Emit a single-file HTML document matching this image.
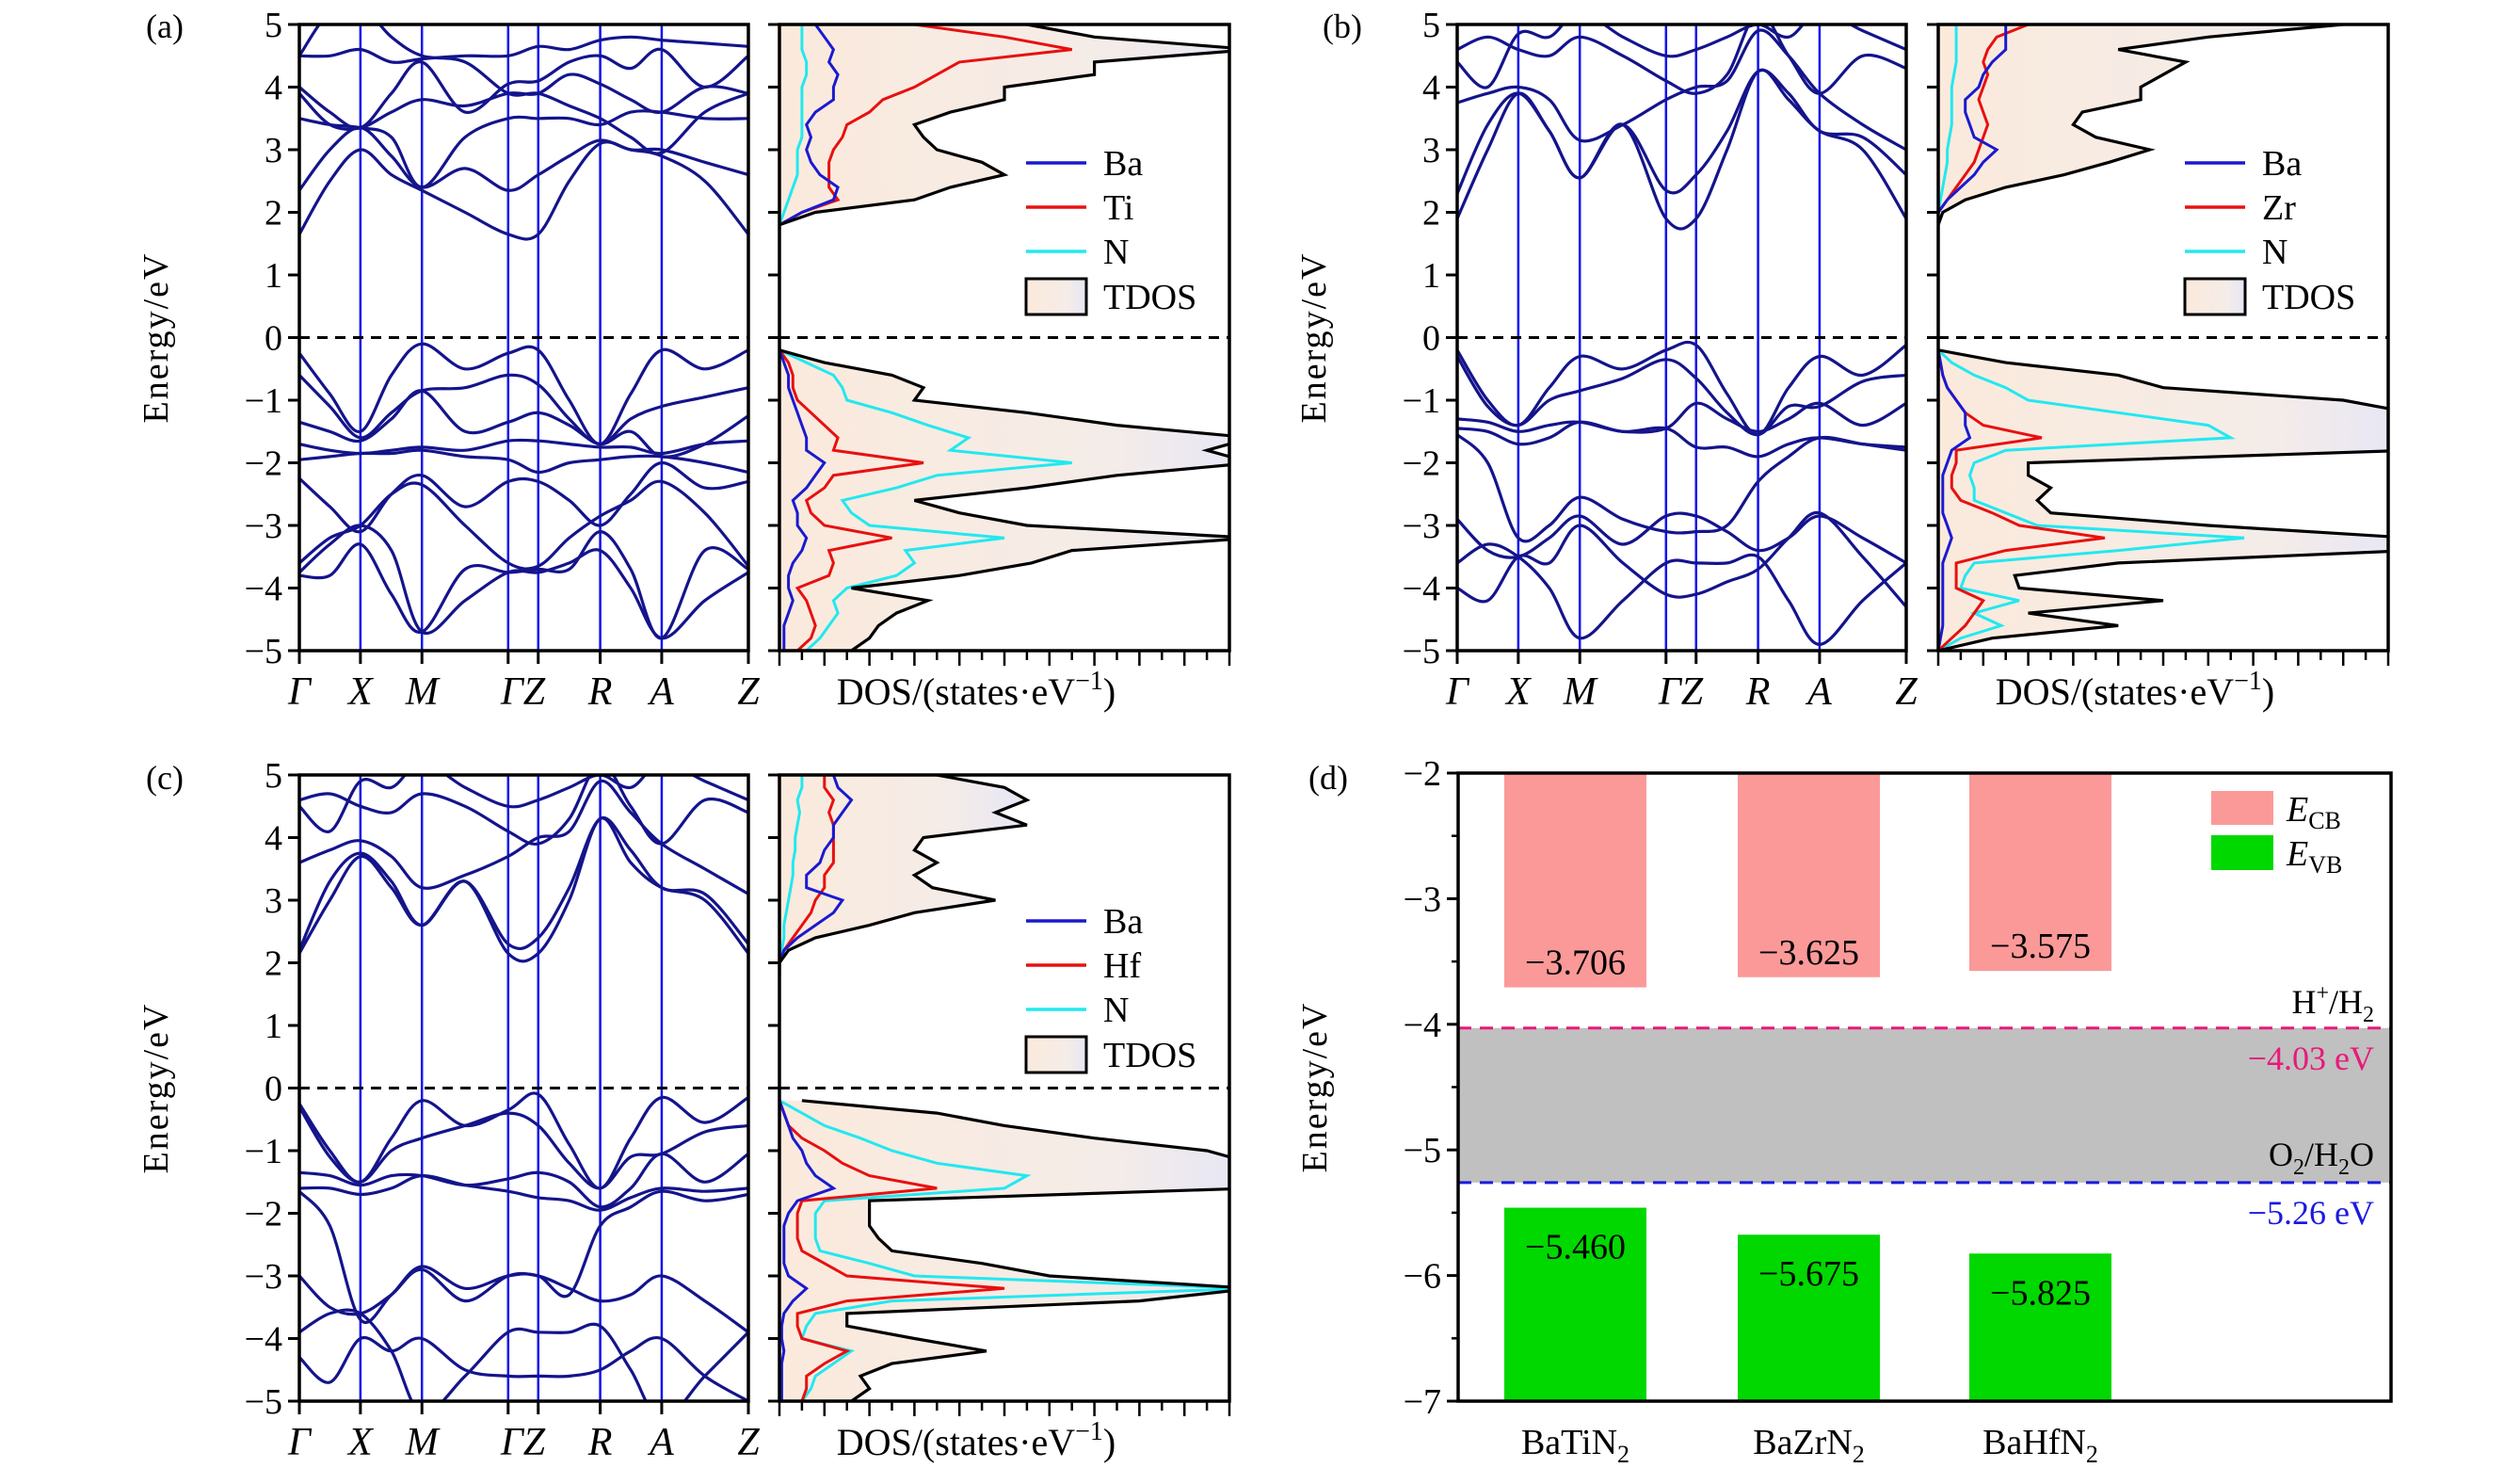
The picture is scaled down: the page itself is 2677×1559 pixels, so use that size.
<!DOCTYPE html>
<html><head><meta charset="utf-8"><title>BaMN2 bands and DOS</title>
<style>
html,body{margin:0;padding:0;background:#fff;}
svg{display:block;font-family:"Liberation Serif","DejaVu Serif",serif;}
</style></head>
<body>
<svg id="fig" width="2677" height="1559" viewBox="0 0 2677 1559" xmlns="http://www.w3.org/2000/svg">
<defs>
<linearGradient id="tdosGrad" x1="0" y1="0" x2="1" y2="0">
<stop offset="0" stop-color="#fbeadc"/><stop offset="0.7" stop-color="#f4ece8"/><stop offset="1" stop-color="#e6e6f6"/>
</linearGradient>
</defs>
</svg>
<script>
// ---------- data ----------
const kLabels = ["Γ","X","M","ΓZ","R","A","Z"];
const kLabelFrac = [0,0.136,0.273,0.498,0.67,0.807,1];
const kSym = [0,0.136,0.273,0.465,0.532,0.67,0.807,1];
const kFrac = [0,0.068,0.136,0.205,0.273,0.369,0.465,0.532,0.601,0.67,0.738,0.807,0.903,1];
const energyTicks = [-5,-4,-3,-2,-1,0,1,2,3,4,5];

const bandsA = [
[-0.25,-0.9,-1.5,-0.6,-0.1,-0.5,-0.25,-0.2,-1.0,-1.7,-0.9,-0.2,-0.5,-0.2],
[-0.6,-1.1,-1.6,-1.2,-0.85,-0.8,-0.6,-0.75,-1.3,-1.7,-1.3,-1.1,-0.95,-0.8],
[-1.35,-1.5,-1.65,-1.3,-0.85,-1.5,-1.35,-1.2,-1.4,-1.7,-1.5,-1.9,-1.7,-1.25],
[-1.7,-1.8,-1.85,-1.8,-1.75,-1.8,-1.65,-1.65,-1.7,-1.75,-1.75,-1.85,-1.7,-1.65],
[-1.95,-1.9,-1.85,-1.85,-1.8,-1.9,-1.95,-2.15,-2.0,-1.95,-1.9,-1.9,-2.0,-2.15],
[-2.25,-2.7,-3.1,-2.5,-2.2,-2.7,-2.3,-2.3,-2.6,-3.0,-2.5,-2.0,-2.4,-2.3],
[-3.6,-3.2,-3.0,-2.5,-2.35,-3.0,-3.6,-3.65,-3.2,-2.85,-2.6,-2.3,-2.8,-3.65],
[-3.75,-3.3,-3.0,-3.4,-4.7,-4.2,-3.75,-3.75,-3.6,-3.4,-4.0,-4.8,-4.2,-3.75],
[-3.8,-3.8,-3.3,-4.1,-4.7,-3.7,-3.75,-3.7,-3.7,-3.1,-3.7,-4.8,-3.4,-3.7],
[1.65,2.5,3.0,2.6,2.35,2.0,1.65,1.65,2.5,3.1,3.0,2.9,2.5,1.65],
[2.35,3.0,3.35,2.9,2.4,2.7,2.35,2.6,2.9,3.15,3.0,3.0,2.8,2.6],
[3.5,3.4,3.35,3.2,2.4,3.2,3.5,3.5,3.5,3.4,3.6,3.6,3.5,3.5],
[3.9,3.4,3.35,3.6,3.8,3.7,3.9,3.9,4.2,4.05,3.8,3.6,4.0,3.9],
[4.0,3.6,3.35,3.9,4.4,3.6,4.05,4.1,4.4,4.5,4.3,4.6,4.0,4.5],
[4.5,4.5,4.6,4.4,4.45,4.5,4.5,4.65,4.6,4.75,4.8,4.75,4.7,4.65],
[4.5,5.2,5.3,4.8,4.5,4.4,3.9,3.9,3.7,3.5,3.2,2.95,3.6,3.9]
];
const bandsB = [
[-0.2,-1.0,-1.4,-0.8,-0.3,-0.5,-0.2,-0.12,-0.9,-1.55,-0.8,-0.3,-0.6,-0.12],
[-0.3,-1.1,-1.4,-1.0,-0.85,-0.65,-0.35,-0.65,-1.2,-1.55,-1.1,-1.1,-0.7,-0.6],
[-1.3,-1.35,-1.5,-1.4,-1.35,-1.5,-1.45,-1.05,-1.3,-1.5,-1.3,-1.05,-1.4,-1.05],
[-1.45,-1.5,-1.7,-1.6,-1.35,-1.5,-1.45,-1.75,-1.75,-1.9,-1.7,-1.6,-1.7,-1.75],
[-1.55,-2.0,-3.2,-3.0,-2.55,-2.9,-3.1,-3.1,-3.0,-2.3,-1.9,-1.6,-1.7,-1.8],
[-2.9,-3.4,-3.5,-3.2,-2.85,-3.3,-2.85,-2.85,-3.1,-3.4,-3.2,-2.85,-3.2,-3.6],
[-3.6,-3.3,-3.5,-4.0,-4.8,-4.2,-3.6,-3.6,-3.6,-3.5,-4.2,-4.9,-4.2,-3.6],
[-4.0,-4.2,-3.5,-3.6,-3.0,-3.6,-4.1,-4.1,-3.9,-3.7,-3.2,-2.8,-3.5,-4.3],
[1.9,3.0,3.9,3.3,2.55,3.4,1.9,1.9,3.0,4.25,3.8,3.3,3.0,1.9],
[2.3,3.4,3.9,3.3,2.55,3.4,2.35,2.6,3.3,4.25,3.9,3.3,3.2,2.6],
[3.75,3.9,4.0,3.8,3.15,3.4,3.8,4.0,4.1,4.9,4.5,3.9,3.4,3.0],
[4.6,4.8,4.6,4.5,4.8,4.5,4.1,3.9,4.2,5.2,4.5,3.9,4.5,4.3],
[4.4,4.0,4.85,4.8,5.2,4.8,4.5,4.6,4.8,5.0,4.8,5.2,4.9,4.6]
];
const bandsC = [
[-0.25,-1.0,-1.5,-0.8,-0.2,-0.6,-0.35,-0.1,-0.9,-1.6,-0.8,-0.15,-0.55,-0.15],
[-0.3,-1.1,-1.5,-1.0,-0.8,-0.6,-0.4,-0.6,-1.2,-1.6,-1.1,-1.05,-0.7,-0.6],
[-1.35,-1.4,-1.55,-1.4,-1.4,-1.55,-1.45,-1.35,-1.5,-1.9,-1.6,-1.05,-1.5,-1.05],
[-1.6,-1.6,-1.7,-1.6,-1.4,-1.55,-1.65,-1.75,-1.8,-1.95,-1.75,-1.6,-1.65,-1.6],
[-1.65,-2.2,-3.7,-3.3,-2.85,-3.2,-3.0,-3.0,-3.3,-2.2,-1.9,-1.65,-1.8,-1.7],
[-3.0,-3.5,-3.6,-3.3,-2.9,-3.4,-3.0,-3.0,-3.2,-3.4,-3.3,-3.0,-3.4,-3.9],
[-3.9,-3.6,-3.6,-4.2,-5.2,-4.6,-3.9,-3.9,-3.9,-3.8,-4.5,-5.3,-4.6,-3.9],
[-4.3,-4.7,-4.0,-4.2,-4.0,-4.5,-4.6,-4.6,-4.6,-4.5,-4.2,-4.0,-4.6,-5.0],
[2.15,3.0,3.7,3.2,2.6,3.3,2.15,2.15,3.0,4.3,3.6,3.2,3.0,2.15],
[2.2,3.3,3.75,3.3,2.6,3.3,2.3,2.4,3.2,4.3,3.8,3.2,3.1,2.3],
[3.6,3.8,3.95,3.7,3.2,3.4,3.7,4.0,4.1,4.9,4.4,3.9,3.5,3.1],
[4.6,4.7,4.5,4.4,4.7,4.5,4.1,3.9,4.3,5.2,4.5,3.9,4.6,4.4],
[4.5,4.1,4.9,4.8,5.2,4.8,4.5,4.6,4.8,5.0,4.8,5.2,4.9,4.6]
];

const dosEvb = [-5,-4.8,-4.6,-4.4,-4.2,-4,-3.8,-3.6,-3.4,-3.2,-3,-2.8,-2.6,-2.4,-2.2,-2,-1.8,-1.6,-1.4,-1.2,-1,-0.8,-0.6,-0.4,-0.2];
const dosEcb = [1.8,2,2.2,2.4,2.6,2.8,3,3.2,3.4,3.6,3.8,4,4.2,4.4,4.6,4.8,5];

const tdosAvb = [1.6,2.0,2.2,2.6,3.3,1.6,4.0,5.6,6.5,10.5,5.5,4.0,3.0,5.5,7.5,10.5,9.5,10.5,7.5,5.5,3.0,3.2,2.5,1.0,0];
const baAvb   = [0.1,0.1,0.1,0.2,0.3,0.2,0.2,0.3,0.5,0.6,0.4,0.4,0.3,0.6,0.8,1.0,0.6,0.6,0.5,0.4,0.3,0.2,0.2,0.1,0];
const mAvb    = [0.4,0.7,0.8,0.7,0.6,0.4,1.1,1.2,1.1,2.5,1.0,0.7,0.6,1.0,1.2,3.2,1.2,1.3,1.0,0.7,0.4,0.3,0.3,0.2,0];
const nAvb    = [0.6,0.9,1.1,1.3,1.2,1.5,2.6,3.0,2.8,5.0,2.0,1.6,1.4,2.6,3.5,6.5,3.8,4.2,3.3,2.5,1.5,1.4,1.2,0.6,0];
const tdosAcb = [0,0.8,3.0,3.8,5.0,4.5,3.5,3.2,3.0,3.8,5.0,5.0,7.0,7.0,10.5,7.0,5.5];
const baAcb   = [0,0.5,1.2,1.3,0.9,0.7,0.6,0.7,0.6,0.8,1.2,1.2,1.3,1.1,1.2,1.0,0.8];
const mAcb    = [0,0.5,1.3,1.1,1.1,1.1,1.2,1.4,1.5,2.0,2.3,3.0,3.5,4.0,6.5,5.0,3.0];
const nAcb    = [0,0.1,0.2,0.3,0.4,0.4,0.4,0.5,0.5,0.5,0.5,0.5,0.6,0.6,0.5,0.5,0.5];

const tdosBvb = [0,1.2,4.0,2.0,5.0,1.8,1.7,4.0,10.5,10.5,6.0,2.5,2.2,2.5,2.0,2.0,10.5,10.5,10.5,10.5,9.0,5.0,4.0,1.5,0];
const baBvb   = [0,0.05,0.1,0.1,0.1,0.1,0.1,0.1,0.2,0.3,0.2,0.1,0.1,0.1,0.1,0.2,0.3,0.7,0.6,0.6,0.4,0.2,0.1,0.05,0];
const mBvb    = [0,0.3,0.6,0.8,1.0,0.4,0.4,0.4,1.5,3.7,1.8,1.2,0.5,0.3,0.3,0.4,0.4,2.3,1.0,0.6,0.4,0.2,0.1,0.05,0];
const nBvb    = [0,0.5,1.4,0.8,1.8,0.5,0.6,0.8,4.0,6.8,2.2,1.5,0.8,0.8,0.7,0.8,1.5,6.5,6.0,4.0,2.0,1.5,0.8,0.3,0];
const tdosBcb = [0,0.1,0.6,1.5,2.8,3.8,4.7,3.5,3.0,3.2,4.5,4.5,5.0,5.5,4.0,6.0,9.0];
const baBcb   = [0,0,0.2,0.5,0.8,1.0,1.3,0.8,0.7,0.6,0.6,0.9,1.0,1.2,1.5,1.5,1.5];
const mBcb    = [0,0,0.2,0.4,0.6,0.8,0.9,1.0,1.1,1.0,0.9,1.0,1.1,1.0,1.1,1.3,2.0];
const nBcb    = [0,0,0.05,0.1,0.15,0.2,0.2,0.25,0.3,0.3,0.3,0.3,0.35,0.4,0.4,0.4,0.4];

const tdosCvb = [1.6,2.0,1.8,2.5,4.6,3.0,1.5,1.5,8.0,10.5,6.0,4.5,2.5,2.2,2.0,2.0,2.0,10.5,10.5,10.5,9.5,7.0,5.0,3.5,0.5];
const baCvb   = [0.05,0.05,0.05,0.05,0.1,0.05,0.05,0.1,0.3,0.6,0.2,0.1,0.1,0.1,0.1,0.2,0.4,1.2,0.8,0.6,0.5,0.3,0.2,0.1,0];
const mCvb    = [0.5,0.6,0.6,1.0,1.5,0.5,0.4,0.4,1.5,5.0,1.5,1.0,0.5,0.4,0.4,0.4,0.5,3.5,2.0,1.4,1.0,0.5,0.2,0.1,0];
const nCvb    = [0.5,0.7,0.8,1.2,1.6,0.5,0.6,0.8,2.5,10.5,3.0,2.0,0.9,0.8,0.8,0.8,1.0,5.0,5.5,3.5,2.5,1.8,1.0,0.5,0];
const tdosCcb = [0,0,0.2,0.8,2.0,3.0,4.8,3.4,3.0,3.5,3.0,3.2,5.5,4.8,5.5,5.0,3.5];
const baCcb   = [0,0,0.1,0.4,0.8,1.2,1.4,0.6,0.6,0.9,1.0,1.2,1.2,1.4,1.6,1.3,1.2];
const mCcb    = [0,0,0.1,0.3,0.5,0.7,0.8,1.0,1.0,1.2,1.2,1.2,1.2,1.1,1.2,1.0,1.0];
const nCcb    = [0,0,0.05,0.1,0.1,0.15,0.2,0.25,0.3,0.3,0.35,0.35,0.4,0.45,0.4,0.5,0.5];

// panel (d)
const compounds = ["BaTiN₂","BaZrN₂","BaHfN₂"];
const ecbValues = [-3.706,-3.625,-3.575];
const evbValues = [-5.460,-5.675,-5.825];
const ecbLabels = ["−3.706","−3.625","−3.575"];
const evbLabels = ["−5.460","−5.675","−5.825"];
const redoxLevels = [-4.03,-5.26];
const dTicks = [-2,-3,-4,-5,-6,-7];

// ---------- drawing ----------
const NS = "http://www.w3.org/2000/svg";
const svg = document.getElementById("fig");
function mk(tag, attrs, parent){
  const e = document.createElementNS(NS, tag);
  for (const k in attrs) e.setAttribute(k, attrs[k]);
  (parent||svg).appendChild(e);
  return e;
}
function txt(x,y,s,size,parent,anchor,extra){
  const t = mk("text",Object.assign({x:x,y:y,"font-size":size,"text-anchor":anchor||"middle",fill:"#000"},extra||{}),parent);
  t.textContent = s;
  return t;
}
function smoothPath(pts){
  let d = "M"+pts[0][0].toFixed(1)+","+pts[0][1].toFixed(1);
  for (let i=0;i<pts.length-1;i++){
    const p0=pts[Math.max(0,i-1)],p1=pts[i],p2=pts[i+1],p3=pts[Math.min(pts.length-1,i+2)];
    const c1=[p1[0]+(p2[0]-p0[0])/6,p1[1]+(p2[1]-p0[1])/6];
    const c2=[p2[0]-(p3[0]-p1[0])/6,p2[1]-(p3[1]-p1[1])/6];
    d+=" C"+c1[0].toFixed(1)+","+c1[1].toFixed(1)+" "+c2[0].toFixed(1)+","+c2[1].toFixed(1)+" "+p2[0].toFixed(1)+","+p2[1].toFixed(1);
  }
  return d;
}
let clipId = 0;
function clipRect(x,y,w,h){
  const id="clip"+(clipId++);
  const defs = svg.querySelector("defs");
  const c = mk("clipPath",{id:id},defs);
  mk("rect",{x:x,y:y,width:w,height:h},c);
  return "url(#"+id+")";
}

function bandPanel(name, bx, top, w, h, bands){
  const g = mk("g",{});
  
  
  const yE = e => top + (5-e)/10*h;
  const xK = f => bx + f*w;
  kSym.forEach(f=>{
    const l = mk("line",{x1:xK(f),x2:xK(f),y1:top,y2:top+h,stroke:"#1010ee","stroke-width":2.5},g);
    
    
  });
  const cg = mk("g",{"clip-path":clipRect(bx,top,w,h)},g);
  bands.forEach(b=>{
    const pts = b.map((e,i)=>[xK(kFrac[i]),yE(e)]);
    const p = mk("path",{d:smoothPath(pts),fill:"none",stroke:"#14148c","stroke-width":3.2},cg);
    
    
  });
  const f = mk("line",{x1:bx,x2:bx+w,y1:yE(0),y2:yE(0),stroke:"#000","stroke-width":3,"stroke-dasharray":"11,8"},g);
  
  
  mk("rect",{x:bx,y:top,width:w,height:h,fill:"none",stroke:"#000","stroke-width":3.5},g);
  energyTicks.forEach(e=>{
    mk("line",{x1:bx-12,x2:bx,y1:yE(e),y2:yE(e),stroke:"#000","stroke-width":3},g);
    const t = txt(bx-18,yE(e)+13,(e<0?"−":"")+Math.abs(e),38,g,"end");
    
    
  });
  kSym.forEach(fr=>{ mk("line",{x1:xK(fr),x2:xK(fr),y1:top+h,y2:top+h+14,stroke:"#000","stroke-width":3},g); });
  kLabels.forEach((s,i)=>{
    const t = txt(xK(kLabelFrac[i]),top+h+57,s,42,g,"middle",{"font-style":"italic"});
    
    
  });
  const yl = txt(0,0,"Energy/eV",38,g,"middle",{transform:"translate("+(bx-140)+","+(top+h/2)+") rotate(-90)","letter-spacing":"2"});
  
  
}

function dosPanel(name, dx, top, w, h, sets, metal, legY){
  const g = mk("g",{});
  
  
  const yE = e => top + (5-e)/10*h;
  const xD = v => dx + v/10*w;
  const cg = mk("g",{"clip-path":clipRect(dx,top,w,h)},g);
  [["vb",dosEvb],["cb",dosEcb]].forEach(([key,E])=>{
    const s = sets[key];
    const tpts = s.tdos.map((v,i)=>[xD(v),yE(E[i])]);
    let d = "M"+xD(0)+","+yE(E[0]);
    tpts.forEach(p=>{ d+=" L"+p[0].toFixed(1)+","+p[1].toFixed(1); });
    d += " L"+xD(0)+","+yE(E[E.length-1])+" Z";
    const fill = mk("path",{d:d,fill:"url(#tdosGrad)",stroke:"none"},cg);
    
    
    [[s.n,"#22e8f0","n-pdos"],[s.m,"#e81010","metal-pdos"],[s.ba,"#1a1ad0","ba-pdos"]].forEach(([arr,col,nm])=>{
      const pl = mk("polyline",{points:arr.map((v,i)=>xD(v).toFixed(1)+","+yE(E[i]).toFixed(1)).join(" "),fill:"none",stroke:col,"stroke-width":3},cg);
      
      
    });
    const tl = mk("polyline",{points:tpts.map(p=>p[0].toFixed(1)+","+p[1].toFixed(1)).join(" "),fill:"none",stroke:"#000","stroke-width":3.2},cg);
    
    
  });
  const f = mk("line",{x1:dx,x2:dx+w,y1:yE(0),y2:yE(0),stroke:"#000","stroke-width":3,"stroke-dasharray":"11,8"},g);
  
  
  mk("rect",{x:dx,y:top,width:w,height:h,fill:"none",stroke:"#000","stroke-width":3.5},g);
  energyTicks.forEach(e=>{ mk("line",{x1:dx-12,x2:dx,y1:yE(e),y2:yE(e),stroke:"#000","stroke-width":3},g); });
  for (let i=0;i<=20;i++){
    mk("line",{x1:dx+i*w/20,x2:dx+i*w/20,y1:top+h,y2:top+h+(i%2===0?16:10),stroke:"#000","stroke-width":2.5},g);
  }
  const xl = txt(dx+w/2-30,top+h+57,"DOS/(states·eV",40,g,"middle");
  const sup = mk("tspan",{dy:-16,"font-size":28},xl); sup.textContent="−1";
  const cl = mk("tspan",{dy:16},xl); cl.textContent=")";
  
  
  const lx = dx + 262;
  const entries = [["Ba","#1a1ad0"],[metal,"#e81010"],["N","#22e8f0"]];
  entries.forEach((en,i)=>{
    const y = legY + i*47;
    const lg = mk("g",{},g);
    
    
    mk("line",{x1:lx,x2:lx+64,y1:y,y2:y,stroke:en[1],"stroke-width":3.5},lg);
    txt(lx+82,y+13,en[0],38,lg,"start");
  });
  const tg = mk("g",{},g);
  
  
  mk("rect",{x:lx,y:legY+3*47-18,width:64,height:38,fill:"url(#tdosGrad)",stroke:"#000","stroke-width":3},tg);
  txt(lx+82,legY+3*47+14,"TDOS",38,tg,"start");
}

const W_B = 477, W_D = 478, H = 665;
const rows = [26, 823];
function panelLabel(x,y,s){
  const t = txt(x,y,s,36,svg,"start");
  
  
}
bandPanel("panel-a",318,rows[0],W_B,H,bandsA);
dosPanel("panel-a",828,rows[0],W_D,H,{vb:{tdos:tdosAvb,ba:baAvb,m:mAvb,n:nAvb},cb:{tdos:tdosAcb,ba:baAcb,m:mAcb,n:nAcb}},"Ti",173);
bandPanel("panel-b",1548,rows[0],W_B,H,bandsB);
dosPanel("panel-b",2059,rows[0],W_D,H,{vb:{tdos:tdosBvb,ba:baBvb,m:mBvb,n:nBvb},cb:{tdos:tdosBcb,ba:baBcb,m:mBcb,n:nBcb}},"Zr",173);
bandPanel("panel-c",318,rows[1],W_B,H,bandsC);
dosPanel("panel-c",828,rows[1],W_D,H,{vb:{tdos:tdosCvb,ba:baCvb,m:mCvb,n:nCvb},cb:{tdos:tdosCcb,ba:baCcb,m:mCcb,n:nCcb}},"Hf",978);
panelLabel(155,40,"(a)");
panelLabel(1405,40,"(b)");
panelLabel(155,838,"(c)");
panelLabel(1390,838,"(d)");

// ---- panel d ----
(function(){
  const x0=1549, x1=2540, top=rows[1]-2, bot=rows[1]+H;
  const g = mk("g",{});
  
  
  const yV = v => top + (-2 - v)/5*(bot-top);
  const bandW = 151, centers=[1673.5,1921.5,2167.5];
  const xC = i => centers[i];
  const rw = mk("rect",{x:x0,y:yV(redoxLevels[0]),width:x1-x0,height:yV(redoxLevels[1])-yV(redoxLevels[0]),fill:"#c0c0c0"},g);
  
  
  compounds.forEach((c,i)=>{
    const cb = mk("rect",{x:xC(i)-bandW/2,y:yV(-2),width:bandW,height:yV(ecbValues[i])-yV(-2),fill:"#fb9999"},g);
    
    
    const vb = mk("rect",{x:xC(i)-bandW/2,y:yV(evbValues[i]),width:bandW,height:yV(-7)-yV(evbValues[i]),fill:"#00d800"},g);
    
    
    const t1 = txt(xC(i),yV(ecbValues[i])-14,ecbLabels[i],38,g,"middle");
    
    
    const t2 = txt(xC(i),yV(evbValues[i])+54,evbLabels[i],38,g,"middle");
    
    
    const xl = txt(xC(i),bot+56,"",38,g,"middle");
    const main = mk("tspan",{},xl); main.textContent = c.replace("₂","");
    const sub = mk("tspan",{dy:9,"font-size":26},xl); sub.textContent="2";
    
    
  });
  const l1 = mk("line",{x1:x0,x2:x1,y1:yV(redoxLevels[0]),y2:yV(redoxLevels[0]),stroke:"#e8197a","stroke-width":3,"stroke-dasharray":"14,9"},g);
  
  
  const l2 = mk("line",{x1:x0,x2:x1,y1:yV(redoxLevels[1]),y2:yV(redoxLevels[1]),stroke:"#1a1ae0","stroke-width":3,"stroke-dasharray":"14,9"},g);
  
  
  const h = txt(x1-18,yV(redoxLevels[0])-16,"",36,g,"end");
  [["H",{}],["+",{dy:-14,"font-size":24}],["/H",{dy:14}],["2",{dy:9,"font-size":24}]].forEach(([s,a])=>{ const ts=mk("tspan",a,h); ts.textContent=s; });
  
  
  const hv = txt(x1-18,yV(redoxLevels[0])+44,"−4.03 eV",36,g,"end",{fill:"#e8197a"});
  
  
  const o = txt(x1-18,yV(redoxLevels[1])-18,"",36,g,"end");
  [["O",{}],["2",{dy:9,"font-size":24}],["/H",{dy:-9}],["2",{dy:9,"font-size":24}],["O",{dy:-9}]].forEach(([s,a])=>{ const ts=mk("tspan",a,o); ts.textContent=s; });
  
  
  const ov = txt(x1-18,yV(redoxLevels[1])+44,"−5.26 eV",36,g,"end",{fill:"#1a1ae0"});
  
  
  mk("rect",{x:x0,y:top,width:x1-x0,height:bot-top,fill:"none",stroke:"#000","stroke-width":3.5},g);
  dTicks.forEach(v=>{
    mk("line",{x1:x0-12,x2:x0,y1:yV(v),y2:yV(v),stroke:"#000","stroke-width":3},g);
    if (v>-7) mk("line",{x1:x0-7,x2:x0,y1:yV(v-0.5),y2:yV(v-0.5),stroke:"#000","stroke-width":2.5},g);
    const t = txt(x0-18,yV(v)+13,"−"+Math.abs(v),38,g,"end");
    
    
  });
  const yl = txt(0,0,"Energy/eV",38,g,"middle",{transform:"translate("+(x0-140)+","+((top+bot)/2)+") rotate(-90)","letter-spacing":"2"});
  
  
  const lx=2349;
  const lg1 = mk("g",{},g);
  
  
  mk("rect",{x:lx,y:840,width:66,height:36,fill:"#fb9999"},lg1);
  const e1 = txt(lx+80,872,"",38,lg1,"start",{"font-style":"italic"});
  const a1=mk("tspan",{},e1); a1.textContent="E";
  const b1=mk("tspan",{dy:8,"font-size":26,"font-style":"normal"},e1); b1.textContent="CB";
  const lg2 = mk("g",{},g);
  
  
  mk("rect",{x:lx,y:887,width:66,height:37,fill:"#00d800"},lg2);
  const e2 = txt(lx+80,919,"",38,lg2,"start",{"font-style":"italic"});
  const a2=mk("tspan",{},e2); a2.textContent="E";
  const b2=mk("tspan",{dy:8,"font-size":26,"font-style":"normal"},e2); b2.textContent="VB";
})();
</script>
</body></html>
